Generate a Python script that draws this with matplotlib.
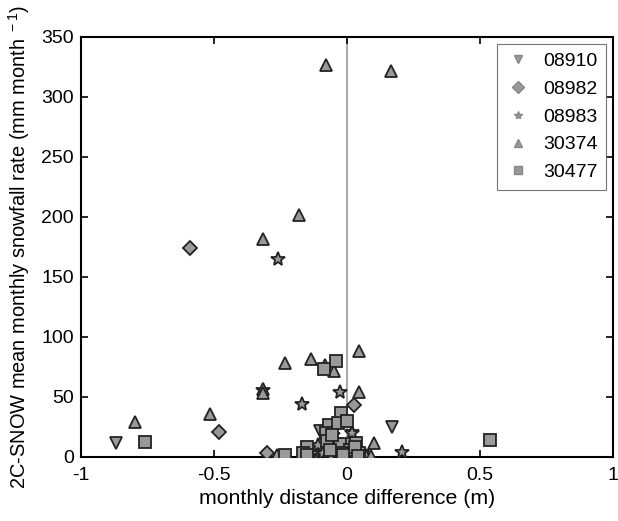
import matplotlib
matplotlib.use("Agg")
import matplotlib.pyplot as plt
from matplotlib.lines import Line2D

plt.rcParams['font.family'] = ['Liberation Sans', 'DejaVu Sans']
plt.rcParams['mathtext.default'] = 'regular'

labels = ["08910", "08982", "08983", "30374", "30477"]
markers = ["v", "D", "*", "^", "s"]

# 08910
x_08910 = [-0.87, 0.17, -0.10, -0.12, -0.06, -0.02, 0.03, -0.13, 0.06]
y_08910 = [12, 25, 22, 1, 0, 1, 0, 0, 1]
# 08982
x_08982 = [-0.59, -0.48, 0.026, -0.30, 0.01]
y_08982 = [174, 21, 43, 3, 5]
# 08983
x_08983 = [-0.26, -0.17, -0.026, -0.315, 0.207, 0.02, -0.11, -0.053, 0.019, -0.09, -0.14, 0.05, -0.02, 0.07, -0.04]
y_08983 = [165, 44, 54, 56, 4, 21, 10, 18, 20, 3, 1, 2, 0, 1, 14]
# 30374
x_30374 = [-0.08, 0.165, -0.18, -0.316, -0.233, -0.135, -0.083, -0.049, 0.045,
           -0.315, -0.315, 0.045, 0.10, 0.09, -0.263, -0.797, -0.515]
y_30374 = [327, 322, 202, 182, 78, 82, 77, 72, 88,
           57, 53, 54, 12, 1, 2, 29, 36]
# 30477
x_30477 = [-0.76, 0.538, -0.041, -0.086, -0.023, -0.068, -0.034, -0.08, -0.15, -0.075,
           -0.026, 0.034, 0.011, -0.019, -0.064, -0.165, -0.233, 0.045, 0.03, -0.015,
           0.041, -0.055, 0.0, -0.15]
y_30477 = [12.5, 14, 80, 73, 37, 27, 28, 20, 8, 13,
           11, 12, 6, 3, 6, 3, 2, 3, 8, 2,
           1, 18, 30, 2]

xs = [x_08910, x_08982, x_08983, x_30374, x_30477]
ys = [y_08910, y_08982, y_08983, y_30374, y_30477]
sizes = [8, 7, 10, 9, 8]

fig = plt.figure(figsize=(6.18, 5.21), dpi=100)
ax = fig.add_axes([0.131, 0.123, 0.861, 0.806])

ax.axvline(0, color='#999999', lw=1.2, zorder=1)

for x, y, m, s in zip(xs, ys, markers, sizes):
    ax.plot(x, y, linestyle='none', marker=m, markersize=s,
            markerfacecolor='#999999', markeredgecolor='#222222',
            markeredgewidth=1.3, zorder=3)

ax.set_xlim(-1, 1)
ax.set_ylim(0, 350)
ax.set_xticks([-1, -0.5, 0, 0.5, 1])
ax.set_xticklabels(["-1", "-0.5", "0", "0.5", "1"])
ax.set_yticks(range(0, 351, 50))
ax.tick_params(direction='in', top=True, right=True, labelsize=14, length=5, width=1.2)
ax.tick_params(axis='x', pad=7)
ax.tick_params(axis='y', pad=5)
for sp in ax.spines.values():
    sp.set_linewidth(1.5)

ax.set_xlabel("monthly distance difference (m)", fontsize=15.3, labelpad=4)
ax.set_ylabel("2C-SNOW mean monthly snowfall rate (mm month$^{\\ -1}$)", fontsize=14.4, labelpad=7)

handles = [Line2D([], [], linestyle='none', marker=m, markersize=6,
                  markerfacecolor='#999999', markeredgecolor='#888888')
           for m in markers]
leg = ax.legend(handles, labels, loc='upper right', fontsize=14, frameon=True,
                fancybox=False, edgecolor='#555555', borderpad=0.45,
                handlelength=1.2, handletextpad=0.7, labelspacing=0.52,
                borderaxespad=0.35)
leg.get_frame().set_linewidth(0.8)

fig.savefig("out.png", dpi=100)
